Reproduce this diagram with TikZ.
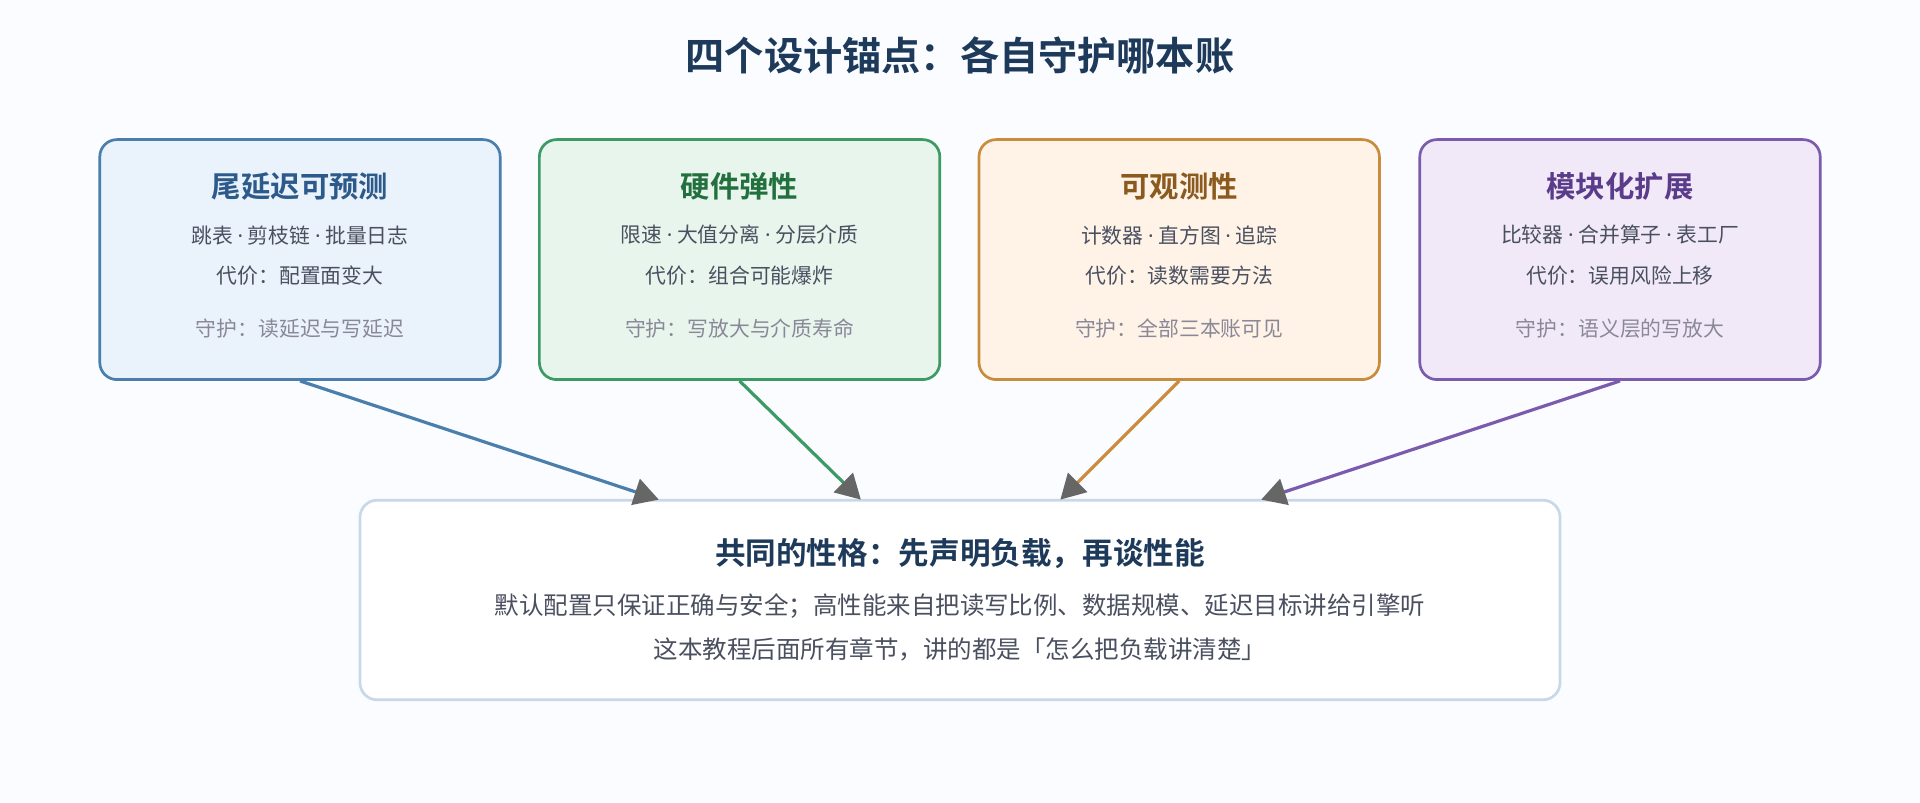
\documentclass[tikz,border=0pt]{standalone}
\usepackage{fontspec}
\setmainfont{Noto Sans CJK SC}[BoldFont={Noto Sans CJK SC Bold}]
\newfontfamily\latinfont{Noto Sans}
\newcommand{\sepdot}{ {\latinfont·} }
\usetikzlibrary{arrows.meta,positioning}
\definecolor{bgc}{HTML}{FAFCFF}
\definecolor{titlec}{HTML}{1E3A5A}
\definecolor{bodyc}{HTML}{4A5060}
\definecolor{guardc}{HTML}{8A8898}
\definecolor{fillA}{HTML}{EAF2FB}\definecolor{lineA}{HTML}{4A7FAD}\definecolor{headA}{HTML}{2C5A8A}
\definecolor{fillB}{HTML}{E8F5EC}\definecolor{lineB}{HTML}{3C9A64}\definecolor{headB}{HTML}{23703F}
\definecolor{fillC}{HTML}{FEF3E6}\definecolor{lineC}{HTML}{C98B3C}\definecolor{headC}{HTML}{8A5A1E}
\definecolor{fillD}{HTML}{F1E9F8}\definecolor{lineD}{HTML}{7B5BAE}\definecolor{headD}{HTML}{5A3C8A}
\definecolor{baseline}{HTML}{C8D8E6}
\tikzset{
anchorbox/.style={
  draw=line#1, fill=fill#1, line width=2.2pt,
  rounded corners=14pt, minimum width=327pt, minimum height=196pt
  },
basebox/.style={
  draw=baseline, fill=white, line width=2.2pt,
  rounded corners=14pt, minimum width=980pt, minimum height=163pt
  },
flow/.style={
  draw=line#1, line width=2.6pt,
  -{Triangle[length=20pt,width=22pt,color=black!60]}
  }
}
\begin{document}
\begin{tikzpicture}[x=1pt,y=-1pt]
\fill[bgc] (0,0) rectangle (1568,655);
\useasboundingbox (0,0) rectangle (1568,655);

\node (title) at (784,45) {\fontsize{32}{36}\selectfont\bfseries\color{titlec}四个设计锚点：各自守护哪本账};

% four anchors
\node[anchorbox=A] (tail) at (245,212) {};
\node[anchorbox=B] (hw)   at (604,212) {};
\node[anchorbox=C] (obs)  at (963,212) {};
\node[anchorbox=D] (mod)  at (1323,212) {};

\foreach \b/\c/\h/\l/\p/\g in {
  tail/A/尾延迟可预测/跳表\sepdot 剪枝链\sepdot 批量日志/配置面变大/读延迟与写延迟,
  hw/B/硬件弹性/限速\sepdot 大值分离\sepdot 分层介质/组合可能爆炸/写放大与介质寿命,
  obs/C/可观测性/计数器\sepdot 直方图\sepdot 追踪/读数需要方法/全部三本账可见,
  mod/D/模块化扩展/比较器\sepdot 合并算子\sepdot 表工厂/误用风险上移/语义层的写放大}{
  \node[font=\fontsize{24}{28}\selectfont\bfseries, text=head\c] (\b-h) at ([yshift=60pt]\b.center) {\h};
  \node[font=\fontsize{17}{20}\selectfont, text=bodyc] (\b-l) at ([yshift=20pt]\b.center) {\l};
  \node[font=\fontsize{17}{20}\selectfont, text=bodyc] (\b-p) at ([yshift=-13pt]\b.center) {代价：\p};
  \node[font=\fontsize{17}{20}\selectfont, text=guardc] (\b-g) at ([yshift=-56pt]\b.center) {守护：\g};
}

% shared base
\node[basebox] (base) at (784,490) {};
\node[font=\fontsize{25}{28}\selectfont\bfseries, text=titlec] (base-h) at (784,452) {共同的性格：先声明负载，再谈性能};
\node[font=\fontsize{20}{24}\selectfont, text=bodyc] (base-1) at (784,495) {默认配置只保证正确与安全；高性能来自把读写比例、数据规模、延迟目标讲给引擎听};
\node[font=\fontsize{20}{24}\selectfont, text=bodyc] (base-2) at (784,530) {这本教程后面所有章节，讲的都是「怎么把负载讲清楚」};

\coordinate (inA) at (538,408);
\coordinate (inB) at (703,408);
\coordinate (inC) at (866,408);
\coordinate (inD) at (1030,408);
\draw[flow=A] (tail.south) -- (inA);
\draw[flow=B] (hw.south) -- (inB);
\draw[flow=C] (obs.south) -- (inC);
\draw[flow=D] (mod.south) -- (inD);
\end{tikzpicture}
\end{document}
